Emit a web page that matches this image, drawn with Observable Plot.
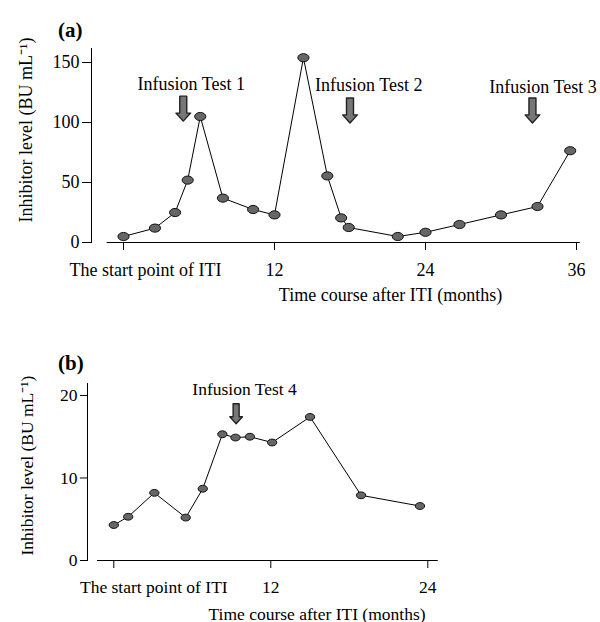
<!DOCTYPE html>
<html><head><meta charset="utf-8">
<script src="https://cdn.jsdelivr.net/npm/d3@7"></script>
<script src="https://cdn.jsdelivr.net/npm/@observablehq/plot@0.6"></script>
<style>body{margin:0;background:#fff} #chart svg{display:block}</style>
</head><body><div id="chart"></div>
<script>
// Panel (a)
const monthsA = [0, 2.5, 4.1, 5.1, 6.1, 7.9, 10.3, 12.0, 14.3, 16.2, 17.3, 17.9, 21.8, 24.0, 26.7, 30.0, 32.9, 35.5];
const levelsA = [5, 12, 25, 52, 105, 37, 27.5, 23, 154, 55.5, 20.5, 12.5, 5, 8.5, 15, 23, 30, 76.5];
const testsA = ["Infusion Test 1", "Infusion Test 2", "Infusion Test 3"];
const testMonthsA = [4.75, 18.0, 32.5];
const arrowTopA = [122, 120.5, 120.5];
const labelMonthsA = [5.39, 19.49, 33.34];
const labelLevelsA = [131.7, 130.8, 129.2];
const yTicksA = [0, 50, 100, 150];
const xTicksA = [0, 12, 24, 36];

// Panel (b)
const monthsB = [0, 1.1, 3.1, 5.5, 6.8, 8.3, 9.3, 10.4, 12.1, 15.0, 18.9, 23.4];
const levelsB = [4.3, 5.3, 8.2, 5.2, 8.7, 15.3, 14.9, 15.0, 14.3, 17.4, 7.9, 6.6];
const testsB = ["Infusion Test 4"];
const testMonthsB = [9.35];
const arrowTopB = [19.0];
const labelMonthsB = [9.99];
const labelLevelsB = [20.7];
const yTicksB = [0, 10, 20];
const xTicksB = [0, 12, 24];

const startLabel = "The start point of ITI";
const xTitle = "Time course after ITI (months)";
const yTitle = "Inhibitor level (BU mL\u207B\u00B9)";

const ellipse = {draw(ctx, size) {
  const r = Math.sqrt(size / Math.PI);
  const rx = r * 1.3, ry = r * 0.95, k = 0.5523;
  ctx.moveTo(rx, 0);
  ctx.bezierCurveTo(rx, ry * k, rx * k, ry, 0, ry);
  ctx.bezierCurveTo(-rx * k, ry, -rx, ry * k, -rx, 0);
  ctx.bezierCurveTo(-rx, -ry * k, -rx * k, -ry, 0, -ry);
  ctx.bezierCurveTo(rx * k, -ry, rx, -ry * k, rx, 0);
  ctx.closePath();
}};
const blockArrow = {draw(ctx, l, r) {
  const sw = r, hw = r * 2.1, hl = r * 2.3;
  ctx.moveTo(-sw, 0);
  ctx.lineTo(sw, 0);
  ctx.lineTo(sw, -(l - hl));
  ctx.lineTo(hw, -(l - hl));
  ctx.lineTo(0, -l);
  ctx.lineTo(-hw, -(l - hl));
  ctx.lineTo(-sw, -(l - hl));
  ctx.closePath();
}};

function panel(o) {
  const pts = o.months.map((m, i) => ({m, v: o.levels[i]}));
  const tests = o.tests.map((t, i) => ({t, m: o.testMonths[i], top: o.arrowTop[i], lm: o.labelMonths[i], lv: o.labelLevels[i]}));
  return Plot.plot({
    width: 600, height: o.height,
    marginLeft: o.marginLeft, marginRight: 0, marginTop: o.marginTop, marginBottom: o.marginBottom,
    x: {domain: o.xDomain},
    y: {domain: o.yDomain},
    style: {fontFamily: "Liberation Serif, Times New Roman, serif", fontSize: o.fs + "px", background: "white", color: "black", overflow: "visible"},
    marks: [
      Plot.frame({anchor: "left", stroke: "black"}),
      Plot.ruleY([0], {x1: o.base[0], x2: o.base[1], stroke: "black", strokeWidth: 1}),
      Plot.axisY({ticks: o.yTicks, tickSize: o.tickY, tickPadding: 3, label: null}),
      Plot.axisX({ticks: o.xTicks, tickSize: 8, tickPadding: o.padX, tickFormat: d => d === 0 ? "" : d, label: null}),
      Plot.text([startLabel], {x: 0, frameAnchor: "bottom", lineAnchor: "top", dy: 8 + o.padX, dx: o.startDx}),
      Plot.line(pts, {x: "m", y: "v", stroke: "black", strokeWidth: 1}),
      Plot.dot(pts, {x: "m", y: "v", symbol: ellipse, r: o.r, fill: "#666", stroke: "#111", strokeWidth: 1}),
      Plot.vector(tests, {x: "m", y: "top", length: o.arrowLen, rotate: 180, anchor: "start", shape: blockArrow, r: o.arrowR, fill: "#777", stroke: "#222", strokeWidth: 1.4}),
      Plot.text(tests, {x: "lm", y: "lv", text: "t"}),
      Plot.text([xTitle], {frameAnchor: "bottom", dx: o.xTitlePos[0], dy: o.xTitlePos[1]}),
      Plot.text([yTitle], {x: o.yTitleAt[0], y: o.yTitleAt[1], rotate: -90}),
      Plot.text([o.tag], {frameAnchor: "top-left", dx: o.tagPos[0], dy: o.tagPos[1], fontWeight: "bold", fontSize: 21})
    ]
  });
}

const chart = document.getElementById("chart");
chart.append(panel({
  months: monthsA, levels: levelsA, tests: testsA, testMonths: testMonthsA, arrowTop: arrowTopA,
  labelMonths: labelMonthsA, labelLevels: labelLevelsA, yTicks: yTicksA, xTicks: xTicksA,
  height: 320, marginLeft: 91, marginTop: 48, marginBottom: 78,
  xDomain: [-2.543, 37.908], yDomain: [0, 161.7], base: [-1.3, 36.3],
  fs: 18, tickY: 9, padX: 13, startDx: 22, r: 4.3, arrowLen: 25, arrowR: 3.5,
  xTitlePos: [390 - 345.5, 300 - 242], yTitleAt: [-7.71, 93.75], tag: "(a)", tagPos: [57.5 - 91, 22 - 48]
}));
chart.append(panel({
  months: monthsB, levels: levelsB, tests: testsB, testMonths: testMonthsB, arrowTop: arrowTopB,
  labelMonths: labelMonthsB, labelLevels: labelLevelsB, yTicks: yTicksB, xTicks: xTicksB,
  height: 302, marginLeft: 87, marginTop: 63, marginBottom: 62,
  xDomain: [-2.01, 37.2], yDomain: [0, 21.45], base: [-1.25, 24.8],
  fs: 17.5, tickY: 7, padX: 12, startDx: 40, r: 3.6, arrowLen: 20, arrowR: 3,
  xTitlePos: [316.5 - 343.5, 299 - 240], yTitleAt: [-6.6, 11.5], tag: "(b)", tagPos: [57.5 - 87, 35 - 63]
}));
</script>
</body></html>
